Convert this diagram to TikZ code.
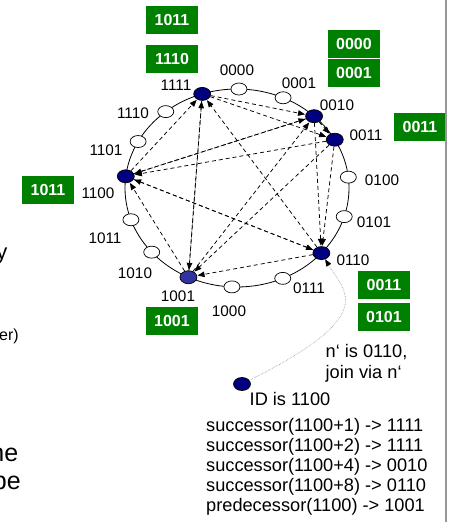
\documentclass[tikz,border=0pt]{standalone}
\usepackage{fontspec}
\setmainfont{Liberation Sans}
\usetikzlibrary{arrows.meta,calc,shapes.geometric}
\definecolor{boxgreen}{RGB}{0,128,0}
\definecolor{navy}{RGB}{0,0,128}
\definecolor{lightnavy}{RGB}{50,50,160}
\definecolor{edgegray}{RGB}{150,150,150}
\begin{document}
\begin{tikzpicture}[x=1pt,y=1pt,
  fullnode/.style={ellipse,draw=black,line width=0.7pt,fill=navy,minimum width=17pt,minimum height=13pt,inner sep=0pt},
  emptynode/.style={ellipse,draw=black,line width=0.7pt,fill=white,minimum width=16pt,minimum height=12pt,inner sep=0pt},
  ringlabel/.style={inner sep=0pt,font=\fontsize{15.3}{18}\selectfont},
  greenbox/.style={fill=boxgreen,text=white,minimum width=52pt,minimum height=28pt,inner sep=0pt,font=\fontsize{16}{18}\selectfont\bfseries},
  finger/.style={draw=black,line width=0.75pt,dash pattern=on 4pt off 3pt,-{Triangle[length=7pt,width=5.5pt]},shorten >=0.5pt},
  bodytext/.style={inner sep=0pt,anchor=base west,font=\fontsize{18.2}{20}\selectfont},
  cuttext/.style={inner sep=0pt,anchor=base east}
]
\useasboundingbox[fill=white] (0,0) rectangle (448,-522);
\coordinate (c) at (237,-188);
% ring
\draw[line width=0.8pt] (c) ellipse [x radius=112pt, y radius=99pt];
% nodes
\node[emptynode] (n0000) at ($(c)+(89:112pt and 99pt)$) {};
\node[emptynode] (n0001) at ($(c)+(65.7:112pt and 99pt)$) {};
\node[fullnode]  (n0010) at ($(c)+(46.5:112pt and 99pt)$) {};
\node[fullnode]  (n0011) at ($(c)+(29.2:112pt and 99pt)$) {};
\node[emptynode] (n0100) at ($(c)+(6.3:112pt and 99pt)$) {};
\node[emptynode] (n0101) at ($(c)+(-16.8:112pt and 99pt)$) {};
\node[fullnode]  (n0110) at ($(c)+(-41.1:112pt and 99pt)$) {};
\node[emptynode] (n0111) at ($(c)+(-65.9:112pt and 99pt)$) {};
\node[emptynode] (n1000) at ($(c)+(-92.6:112pt and 99pt)$) {};
\node[fullnode,fill=lightnavy] (n1001) at ($(c)+(-115.7:112pt and 99pt)$) {};
\node[emptynode] (n1010) at ($(c)+(-139.6:112pt and 99pt)$) {};
\node[emptynode] (n1011) at ($(c)+(-161.3:112pt and 99pt)$) {};
\node[fullnode]  (n1100) at ($(c)+(173.2:112pt and 99pt)$) {};
\node[emptynode] (n1101) at ($(c)+(152:112pt and 99pt)$) {};
\node[emptynode] (n1110) at ($(c)+(129.5:112pt and 99pt)$) {};
\node[fullnode]  (n1111) at ($(c)+(108.1:112pt and 99pt)$) {};
% ring labels
\node[ringlabel] (l0000) at (237,-70) {0000};
\node[ringlabel] (l0001) at (299,-83) {0001};
\node[ringlabel] (l0010) at (337,-105) {0010};
\node[ringlabel] (l0011) at (366,-135) {0011};
\node[ringlabel] (l0100) at (382,-180) {0100};
\node[ringlabel] (l0101) at (374,-222) {0101};
\node[ringlabel] (l0110) at (353,-260) {0110};
\node[ringlabel] (l0111) at (309,-288) {0111};
\node[ringlabel] (l1000) at (229,-311) {1000};
\node[ringlabel] (l1001) at (178,-296) {1001};
\node[ringlabel] (l1010) at (135,-273) {1010};
\node[ringlabel] (l1011) at (105,-238) {1011};
\node[ringlabel] (l1100) at (98,-193) {1100};
\node[ringlabel] (l1101) at (106,-150) {1101};
\node[ringlabel] (l1110) at (133,-113) {1110};
\node[ringlabel] (l1111) at (176,-85) {1111};
% finger arrows
\draw[finger] (n1111) -- (n0010);
\draw[finger] (n1111) -- (n0011);
\draw[finger] (n1111) -- (n1001);
\draw[finger] (n0010) -- (n0011);
\draw[finger] (n0010) -- (n0110);
\draw[finger] (n0010) -- (n1100);
\draw[finger] (n0011) -- (n0110);
\draw[finger] (n0011) -- (n1001);
\draw[finger] (n0011) -- (n1100);
\draw[finger] (n0110) -- (n1001);
\draw[finger] (n0110) -- (n1100);
\draw[finger] (n0110) -- (n1111);
\draw[finger] (n1001) -- (n1100);
\draw[finger] (n1001) -- (n1111);
\draw[finger] (n1001) -- (n0010);
\draw[finger] (n1100) -- (n1111);
\draw[finger] (n1100) -- (n0010);
\draw[finger] (n1100) -- (n0110);
% green boxes
\node[greenbox] (b1) at (172,-20) {1011};
\node[greenbox] (b2) at (172,-59) {1110};
\node[greenbox] (b3) at (48,-190) {1011};
\node[greenbox] (b4) at (354,-44) {0000};
\node[greenbox] (b5) at (354,-73) {0001};
\node[greenbox] (b6) at (420,-127) {0011};
\node[greenbox] (b7) at (384,-285) {0011};
\node[greenbox] (b8) at (384,-317) {0101};
\node[greenbox] (b9) at (172,-321) {1001};
% joining node
\node[fullnode] (nnew) at (242,-384) {};
\draw[edgegray,line width=0.6pt,densely dotted,-{Triangle[length=7pt,width=5.5pt,color=black,fill=black]}]
  (nnew) .. controls (380,-315) and (345,-292) .. (n0110);
% texts
\node[bodytext] (t1) at (325.5,-357) {n‘ is 0110,};
\node[bodytext] (t2) at (325.5,-378) {join via n‘};
\node[bodytext] (t3) at (249.5,-405) {ID is 1100};
\node[bodytext] (s1) at (206,-431.7) {successor(1100+1) -> 1111};
\node[bodytext] (s2) at (206,-451.7) {successor(1100+2) -> 1111};
\node[bodytext] (s3) at (206,-471.7) {successor(1100+4) -> 0010};
\node[bodytext] (s4) at (206,-491.7) {successor(1100+8) -> 0110};
\node[bodytext] (s5) at (206,-511.7) {predecessor(1100) -> 1001};
% cut-off text at left margin
\node[cuttext,font=\fontsize{22}{26}\selectfont] (f1) at (7.5,-259.5) {y};
\node[cuttext,font=\fontsize{16}{19}\selectfont] (f2) at (19,-340) {er)};
\node[cuttext,font=\fontsize{25}{28}\selectfont] (f3) at (18.5,-461.7) {ne};
\node[cuttext,font=\fontsize{25}{28}\selectfont] (f4) at (21,-489) {be};
% right edge line
\draw[edgegray,line width=2pt] (445.5,0) -- (445.5,-522);
\end{tikzpicture}
\end{document}
